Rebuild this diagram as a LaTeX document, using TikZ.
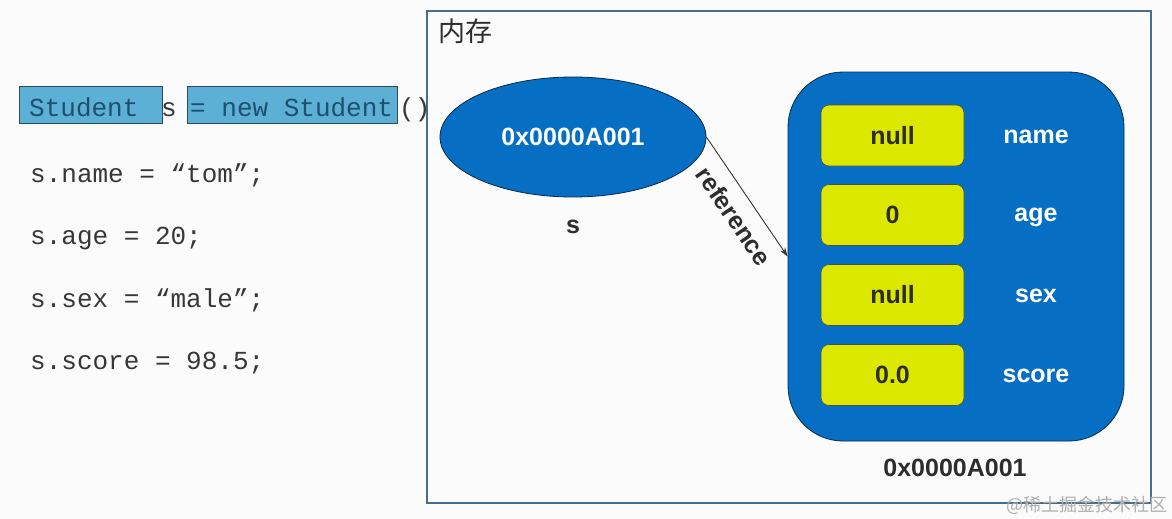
\documentclass[tikz,border=0pt]{standalone}
\usepackage{fontspec}
\setmainfont{Liberation Sans}
\newfontfamily\codefont{Liberation Mono}
\newfontfamily\cjkfont{Noto Sans CJK SC}
\usetikzlibrary{arrows.meta,shapes.geometric}
\definecolor{bgc}{RGB}{251,251,251}
\definecolor{memblue}{RGB}{6,111,196}
\definecolor{slotyellow}{RGB}{221,232,0}
\definecolor{framec}{RGB}{70,110,140}
\definecolor{hlfill}{RGB}{92,176,214}
\definecolor{hlborder}{RGB}{45,75,95}
\definecolor{hltext}{RGB}{30,80,110}
\definecolor{codetext}{RGB}{55,55,55}
\definecolor{darklabel}{RGB}{45,45,45}
\definecolor{wmark}{RGB}{175,175,175}
\begin{document}
\begin{tikzpicture}[x=1pt,y=-1pt,
  code/.style={anchor=base west, inner sep=0pt, text=codetext,
    font=\codefont\fontsize{26}{30}\selectfont},
  hlcode/.style={code, text=hltext},
  hlbox/.style={draw=hlborder, line width=1pt, fill=hlfill, inner sep=0pt, anchor=north west},
  slot/.style={draw=black!70, line width=0.6pt, fill=slotyellow, rounded corners=8pt,
    minimum width=143pt, minimum height=61pt, inner sep=0pt, text=darklabel,
    font=\bfseries\fontsize{25}{30}\selectfont},
  field/.style={text=white, inner sep=0pt, font=\bfseries\fontsize{25}{30}\selectfont},
  dlabel/.style={text=darklabel, inner sep=0pt, font=\bfseries\fontsize{25}{30}\selectfont},
  conn/.style={draw=black!80, line width=0.9pt, -{Stealth[length=9pt,width=6pt]}}
]
\useasboundingbox (0,0) rectangle (1172,519);
\fill[bgc] (0,0) rectangle (1172,519);

% code
\node[hlbox, minimum width=143pt, minimum height=37pt] (hla) at (19,86) {};
\node[hlbox, minimum width=210pt, minimum height=37pt] (hlb) at (187,86) {};
\node[hlcode] (c1a) at (29,116) {Student};
\node[code] (c1b) at (161,116) {s};
\node[hlcode] (c1c) at (190,116) {= new Student};
\node[code] (c1d) at (399,116) {()};
\node[code] (c2) at (30,182) {s.name = “tom”;};
\node[code] (c3) at (30,244) {s.age = 20;};
\node[code] (c4) at (30,307) {s.sex = “male”;};
\node[code] (c5) at (30,369) {s.score = 98.5;};

% memory frame
\node[draw=framec, line width=1.6pt, minimum width=724pt, minimum height=492pt,
  inner sep=0pt, anchor=north west] (mem) at (426,10) {};
\node[anchor=north west, inner sep=0pt, text=darklabel,
  font=\cjkfont\fontsize{27}{30}\selectfont] (memlbl) at (438,19) {内存};

% reference variable
\node[ellipse, draw=black!60!memblue, line width=0.8pt, fill=memblue,
  minimum width=266pt, minimum height=120pt, inner sep=0pt, text=white,
  font=\bfseries\fontsize{25}{30}\selectfont] (ptr) at (573,137) {0x0000A001};
\node[dlabel] (sname) at (573,227) {s};

% object
\node[draw=black!60!memblue, line width=0.8pt, fill=memblue, rounded corners=55pt,
  minimum width=336pt, minimum height=369pt, inner sep=0pt] (obj) at (956,256.5) {};
\node[slot] (v1) at (892.5,135.5) {null};
\node[slot] (v2) at (892.5,215) {0};
\node[slot] (v3) at (892.5,295) {null};
\node[slot] (v4) at (892.5,375) {0.0};
\node[field] (f1) at (1036,137) {name};
\node[field] (f2) at (1036,217) {age};
\node[field] (f3) at (1036,296) {sex};
\node[field] (f4) at (1036,376) {score};
\node[dlabel] (addr) at (955,468) {0x0000A001};

% connector
\draw[conn] (ptr.east) -- node[pos=0.56, sloped, below=12pt, inner sep=0pt, text=darklabel,
  font=\bfseries\fontsize{25}{30}\selectfont] (reflbl) {reference} (obj.west);

% watermark
\node[text=wmark, inner sep=0pt, font=\cjkfont\fontsize{18}{20}\selectfont] (wm) at (1087,505) {@稀土掘金技术社区};
\end{tikzpicture}
\end{document}
